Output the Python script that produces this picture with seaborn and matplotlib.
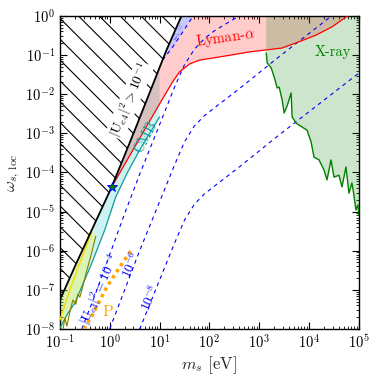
import numpy as np
import matplotlib.pyplot as plt
import seaborn as sns

# all curves stored as log10(m_s / eV), log10(omega_s,loc)

# |U_e4|^2 > 1e-1 boundary (hatched side)
black_lm = [-1.0, -0.68, -0.36, 0.04, 0.5, 1.0, 1.14, 1.44, 1.55]
black_lw = [-7.26, -6.35, -5.47, -4.37, -2.93, -1.32, -0.87, 0.0, 0.3]

# CMB lower edge (region stops at m_s = 10 eV)
cmb_lm = [-1.0, -0.84, -0.70, -0.36, -0.10, 0.12, 0.36, 0.60, 1.00]
cmb_lw = [-7.98, -7.60, -7.34, -6.32, -5.47, -4.63, -3.99, -3.43, -2.58]

# Lyman-alpha bound
lya_lm = [0.04, 0.50, 1.00, 1.26, 1.40, 1.60, 1.80, 2.34, 2.80, 3.46, 3.80, 4.14, 4.46, 4.74, 4.84]
lya_lw = [-4.37, -3.35, -2.25, -1.69, -1.43, -1.23, -1.13, -1.02, -0.92, -0.82, -0.66, -0.49, -0.28, -0.03, 0.05]

# X-ray bound
xray_lm = [3.14, 3.16, 3.24, 3.30, 3.36, 3.40, 3.46, 3.50, 3.56, 3.64, 3.66, 3.74, 3.86, 3.96,
           4.04, 4.10, 4.20, 4.30, 4.36, 4.44, 4.50, 4.60, 4.66, 4.74, 4.80, 4.86, 4.90, 4.94, 4.98, 5.0]
xray_lw = [-0.95, -1.20, -1.33, -1.56, -1.84, -1.82, -2.15, -2.48, -2.30, -1.97, -2.58, -2.74, -2.84, -2.92,
           -3.22, -3.61, -3.68, -3.94, -4.19, -3.68, -4.12, -4.07, -4.37, -3.86, -4.53, -4.27, -4.58, -4.96, -4.83, -5.09]

# low-mass bounds (yellow / olive)
gold_lm = [-0.36, -0.50, -0.64, -0.80, -0.92, -1.0]
gold_lw = [-5.52, -5.98, -6.45, -7.01, -7.47, -7.77]
olive_lm = [-0.28, -0.38, -0.48, -0.56, -0.60, -0.64, -0.68, -0.74, -0.80, -0.86, -0.90, -0.94]
olive_lw = [-5.63, -6.14, -6.60, -7.01, -7.19, -7.11, -7.37, -7.26, -7.57, -7.93, -7.72, -8.03]

# omega_s = omega_DM patch at the top
dm_lm = [1.06, 1.14, 1.44, 1.67, 1.46, 1.26]
dm_lw = [-1.13, -0.87, 0.0, 0.0, -0.42, -0.80]

# P curve
p_lm = [-0.52, -0.36, -0.06, 0.20, 0.42]
p_lw = [-8.0, -7.67, -6.93, -6.42, -6.01]

# iso-mixing contours |U_e4|^2 = 1e-2, 1e-4, 1e-6, 1e-8
u2_lm = [1.06, 1.26, 1.46, 1.66, 1.72]
u2_lw = [-1.13, -0.80, -0.42, -0.03, 0.1]
u4_lm = [-0.56, -0.3, 0.0, 0.3, 0.6, 1.0, 1.3, 1.5, 1.7, 1.9, 2.1, 2.4, 2.6, 2.8]
u4_lw = [-8.0, -7.15, -6.1, -5.05, -4.05, -2.78, -1.82, -1.25, -0.85, -0.58, -0.38, -0.15, 0.0, 0.15]
u6_lm = [0.0, 0.3, 0.6, 1.0, 1.3, 1.5, 1.7, 1.9, 2.1, 2.6, 3.4, 4.2, 4.5]
u6_lw = [-8.0, -7.0, -6.0, -4.75, -3.81, -3.22, -2.81, -2.55, -2.35, -1.86, -1.04, -0.25, 0.05]
u8_lm = [0.60, 1.00, 1.30, 1.50, 1.70, 1.90, 2.10, 2.60, 3.40, 4.20, 5.00]
u8_lw = [-8.01, -6.75, -5.81, -5.22, -4.81, -4.55, -4.35, -3.86, -3.04, -2.25, -1.46]

star_lm, star_lw = 0.04, -4.37


def ex(v):
    return 10 ** np.asarray(v, dtype=float)


# render at 125 dpi so the hatch spacing matches; k rescales point sizes back
DPI = 125
k = 100 / DPI

sns.set_style('ticks')
plt.rcParams['font.family'] = 'serif'
plt.rcParams['font.serif'] = ['cmr10', 'DejaVu Serif']
plt.rcParams['mathtext.fontset'] = 'cm'
plt.rcParams['axes.formatter.use_mathtext'] = True
plt.rcParams['hatch.linewidth'] = 0.8 * k
plt.rcParams['axes.edgecolor'] = 'black'
plt.rcParams['xtick.color'] = 'black'
plt.rcParams['ytick.color'] = 'black'
plt.rcParams['text.color'] = 'black'

fig = plt.figure(figsize=(379 / DPI, 379 / DPI), dpi=DPI)
ax = fig.add_axes([0.158, 0.132, 0.789, 0.826])
ax.set_xscale('log')
ax.set_yscale('log')

# filled regions
hatch_x = ex(black_lm + [-1.0])
hatch_y = ex(black_lw + [0.3])
ax.fill(hatch_x, hatch_y, facecolor='none', edgecolor='black', hatch='\\\\', lw=0, zorder=1)

ax.fill(ex(black_lm[:6] + cmb_lm[::-1]), ex(black_lw[:6] + cmb_lw[::-1]),
        facecolor='c', alpha=0.2, lw=0, zorder=1)
ax.fill(ex(black_lm[3:] + [4.9] + lya_lm[::-1]), ex(black_lw[3:] + [0.3] + lya_lw[::-1]),
        facecolor='red', alpha=0.2, lw=0, zorder=1)
ax.fill(ex([3.14] + xray_lm + [5.0]), ex([0.3] + xray_lw + [0.3]),
        facecolor='green', alpha=0.2, lw=0, zorder=1)
ax.fill(ex(black_lm[:3] + olive_lm + [-1.0]), ex(black_lw[:3] + olive_lw + [-8.03]),
        facecolor='yellow', alpha=0.25, lw=0, zorder=1)
ax.fill(ex(dm_lm), ex(dm_lw), facecolor='#c8c8ff', lw=0, zorder=1.5)

# iso-mixing dashed lines
dash = (0, (3.5, 3.5))
for lm, lw_ in [(u2_lm, u2_lw), (u4_lm, u4_lw), (u6_lm, u6_lw), (u8_lm, u8_lw)]:
    sns.lineplot(x=ex(lm), y=ex(lw_), ax=ax, color='blue', lw=0.8 * k, linestyle=dash,
                 sort=False, estimator=None, zorder=2)

# bounds
sns.lineplot(x=ex(cmb_lm), y=ex(cmb_lw), ax=ax, color='#109a9a', lw=0.9 * k, sort=False, estimator=None, zorder=3)
sns.lineplot(x=ex(olive_lm), y=ex(olive_lw), ax=ax, color='olive', lw=0.8 * k, sort=False, estimator=None, zorder=3)
sns.lineplot(x=ex(gold_lm), y=ex(gold_lw), ax=ax, color='gold', lw=1.0 * k, sort=False, estimator=None, zorder=3)
sns.lineplot(x=ex(lya_lm), y=ex(lya_lw), ax=ax, color='red', lw=0.9 * k, sort=False, estimator=None, zorder=3)
sns.lineplot(x=ex(xray_lm), y=ex(xray_lw), ax=ax, color='green', lw=1.0 * k, sort=False, estimator=None, zorder=3)
sns.lineplot(x=ex(black_lm), y=ex(black_lw), ax=ax, color='black', lw=1.3 * k, sort=False, estimator=None, zorder=4)
sns.lineplot(x=ex(p_lm), y=ex(p_lw), ax=ax, color='orange', lw=2.5 * k, linestyle=(0, (1, 1.1)),
             sort=False, estimator=None, zorder=3)
ax.plot(ex(star_lm), ex(star_lw), marker='*', ms=7 * k, mfc='green', mec='blue', mew=0.6 * k, zorder=5)

# labels
ax.text(ex(0.40), ex(-2.15), r'$|{\rm U}_{e4}|^2>10^{-1}$', rotation=67, fontsize=10 * k,
        ha='center', va='center', bbox=dict(fc='white', ec='none', pad=0.3), zorder=4)
ax.text(ex(0.72), ex(-3.1), 'CMB', color='#109a9a', rotation=62, fontsize=10.5 * k,
        ha='center', va='center', zorder=4)
ax.text(ex(2.32), ex(-0.56), r'Lyman-$\alpha$', color='red', rotation=8, fontsize=10.5 * k,
        ha='center', va='center', zorder=4)
ax.text(ex(4.48), ex(-0.92), 'X-ray', color='green', fontsize=10.5 * k, ha='center', va='center', zorder=4)
ax.text(ex(-0.04), ex(-7.57), 'P', color='orange', fontsize=11.5 * k, ha='center', va='center', zorder=4)
ax.text(ex(-0.2), ex(-7.0), r'$|{\rm U}_{e4}|^2=10^{-4}$', color='blue', rotation=66, fontsize=9.5 * k,
        ha='center', va='center', zorder=4)
ax.text(ex(0.44), ex(-6.35), r'$10^{-6}$', color='blue', rotation=66, fontsize=9.5 * k,
        ha='center', va='center', zorder=4)
ax.text(ex(0.82), ex(-7.2), r'$10^{-8}$', color='blue', rotation=66, fontsize=9.5 * k,
        ha='center', va='center', zorder=4)
ax.text(ex(1.40), ex(-0.43), r'$\omega_s=$', color='blue', alpha=0.6, rotation=60, fontsize=6.5 * k,
        ha='center', va='center', zorder=4, clip_on=True)

ax.set_xlim(1e-1, 1e5)
ax.set_ylim(1e-8, 1e0)
ax.set_xlabel(r'$m_s$ [eV]', fontsize=12 * k, labelpad=2 * k)
ax.set_ylabel(r'$\omega_{s,\,{\rm loc}}$', fontsize=12 * k, labelpad=2 * k)
ax.tick_params(which='both', direction='in', top=True, right=True, labelsize=10.5 * k, pad=3.5 * k)
ax.tick_params(which='major', length=5 * k, width=0.8 * k)
ax.tick_params(which='minor', length=2.5 * k, width=0.6 * k)
for s in ax.spines.values():
    s.set_linewidth(1.0 * k)

fig.savefig('out.png', dpi=DPI)
